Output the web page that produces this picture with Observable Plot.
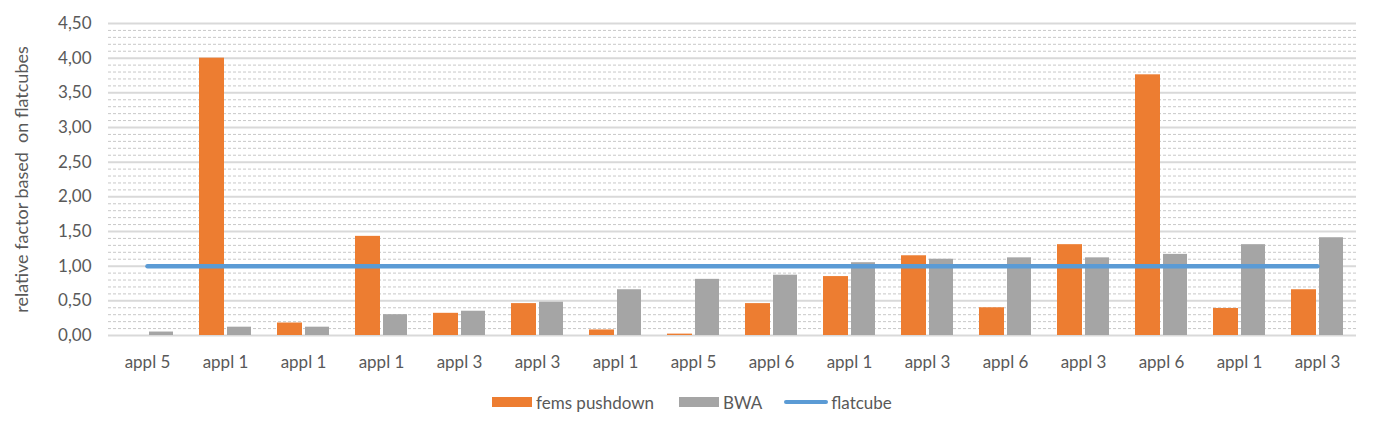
<!DOCTYPE html>
<html>
<head>
<meta charset="utf-8">
<script src="https://cdn.jsdelivr.net/npm/d3@7"></script>
<script src="https://cdn.jsdelivr.net/npm/@observablehq/plot@0.6"></script>
<style>
  html, body { margin: 0; padding: 0; background: #fff; }
  #wrap { position: relative; width: 1379px; height: 432px; font-family: Lato, "Liberation Sans", sans-serif; }
  #legend { position: absolute; left: 492px; top: 392px; height: 20px; display: flex; align-items: center; font-size: 17px; color: #595959; }
  .item { display: flex; align-items: center; }
  .sw { width: 40px; height: 10px; margin-right: 4px; }
  .ln { width: 44px; height: 4px; border-radius: 2px; margin-right: 3px; }
</style>
</head>
<body>
<div id="wrap">
  <div id="chart"></div>
  <div id="legend"></div>
</div>
<script>
const labels = ["appl 5","appl 1","appl 1","appl 1","appl 3","appl 3","appl 1","appl 5","appl 6","appl 1","appl 3","appl 6","appl 3","appl 6","appl 1","appl 3"];
const femsPushdown = [0, 4.00, 0.18, 1.43, 0.32, 0.46, 0.08, 0.02, 0.46, 0.85, 1.15, 0.40, 1.31, 3.76, 0.39, 0.66];
const bwa = [0.05, 0.12, 0.12, 0.30, 0.35, 0.48, 0.66, 0.81, 0.87, 1.05, 1.10, 1.12, 1.12, 1.17, 1.31, 1.41];
const flatcube = [1,1,1,1,1,1,1,1,1,1,1,1,1,1,1,1];
const seriesNames = ["fems pushdown", "BWA", "flatcube"];
const colors = ["#ed7d31", "#a5a5a5", "#5b9bd5"];
const majorTicks = d3.range(0, 4.5001, 0.5);
const minorTicks = d3.range(0, 4.5001, 0.1).filter(v => Math.abs(v * 2 - Math.round(v * 2)) > 1e-6);

const idx = labels.map((_, i) => String(i));
const rows = labels.map((l, i) => ({i: String(i), label: l, fems: femsPushdown[i], bwa: bwa[i], flat: flatcube[i]}));
const fmt = v => d3.format(".2f")(v).replace(".", ",");

const chart = Plot.plot({
  width: 1379,
  height: 380,
  marginTop: 23,
  marginBottom: 45,
  marginLeft: 108,
  marginRight: 23,
  style: {fontFamily: "Lato, 'Liberation Sans', sans-serif", fontSize: "17px", color: "#595959", background: "#fff"},
  x: {type: "band", domain: idx, paddingInner: 1/3, paddingOuter: 1/6, align: 0.5},
  y: {domain: [0, 4.5]},
  marks: [
    Plot.ruleY(minorTicks, {stroke: "#c8c8c8", strokeWidth: 1, strokeDasharray: "3,2"}),
    Plot.ruleY(majorTicks, {stroke: "#d9d9d9", strokeWidth: 2}),
    Plot.barY(rows, {x: "i", y: "fems", fill: colors[0], insetRight: 27}),
    Plot.barY(rows, {x: "i", y: "bwa", fill: colors[1], insetLeft: 28}),
    Plot.lineY(rows, {x: "i", y: "flat", stroke: colors[2], strokeWidth: 4.5, strokeLinecap: "round"}),
    Plot.axisX({tickSize: 0, tickPadding: 20, tickFormat: i => labels[+i], fontSize: 17, color: "#595959", label: null}),
    Plot.axisY({ticks: majorTicks, tickSize: 0, tickPadding: 17, tickFormat: fmt, fontSize: 17, label: null}),
    Plot.text(["relative factor based  on flatcubes"], {frameAnchor: "left", textAnchor: "middle", dx: -86, rotate: -90, fontSize: 18, fill: "#595959"})
  ]
});
document.getElementById("chart").appendChild(chart);

const legend = document.getElementById("legend");
const gaps = [25, 22, 0];
seriesNames.forEach((name, k) => {
  const item = document.createElement("div");
  item.className = "item";
  item.style.marginRight = gaps[k] + "px";
  const sw = document.createElement("div");
  sw.className = k === 2 ? "ln" : "sw";
  sw.style.background = colors[k];
  const t = document.createElement("span");
  t.textContent = name;
  item.appendChild(sw);
  item.appendChild(t);
  legend.appendChild(item);
});
</script>
</body>
</html>
